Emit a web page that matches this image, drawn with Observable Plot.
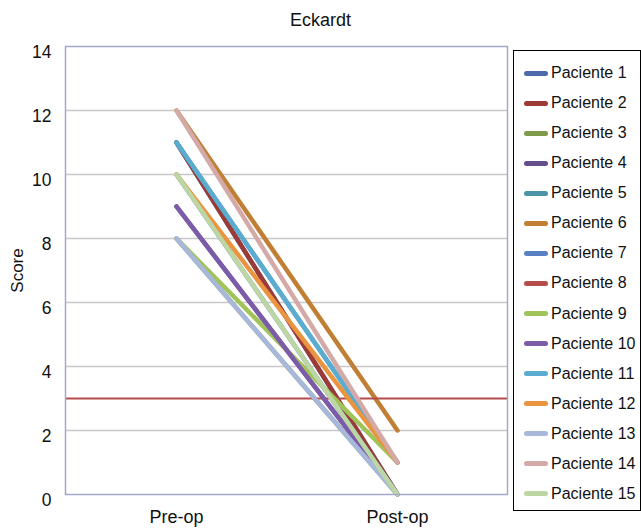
<!DOCTYPE html>
<html>
<head>
<meta charset="utf-8">
<script src="https://cdn.jsdelivr.net/npm/d3@7"></script>
<script src="https://cdn.jsdelivr.net/npm/@observablehq/plot@0.6"></script>
<style>
  body { margin: 0; background: #fff; font-family: "Liberation Sans", Arial, Helvetica, sans-serif; }
  #wrap { position: relative; width: 641px; height: 528px; overflow: hidden; }
  #title { position: absolute; left: 0; top: 10px; width: 641px; text-align: center; font-size: 18px; color: #111; }
  #legend { position: absolute; left: 513px; top: 50px; width: 126px; height: 459px; border: 1px solid #000; background: #fff; }
  .row { position: absolute; left: 0; height: 20px; display: flex; align-items: center; font-size: 16px; color: #111; white-space: nowrap; }
  .sw { width: 24px; height: 5px; border-radius: 3px; margin-left: 10px; margin-right: 3px; }
</style>
</head>
<body>
<div id="wrap">
  <div id="chart"></div>
  <div id="title">Eckardt</div>
  <div id="legend"></div>
</div>
<script>
const patients = ["Paciente 1","Paciente 2","Paciente 3","Paciente 4","Paciente 5","Paciente 6","Paciente 7","Paciente 8","Paciente 9","Paciente 10","Paciente 11","Paciente 12","Paciente 13","Paciente 14","Paciente 15"];
const phases = ["Pre-op", "Post-op"];
const preOp  = [11, 11, 8, 9, 11, 12, 10, 3, 8, 9, 11, 10, 8, 12, 10];
const postOp = [ 0,  0, 0, 0,  1,  2,  0, 3, 1, 0,  1,  1, 0,  1,  0];
const colors = ["#4a6aa8","#9b3a36","#7f9a48","#634d8a","#4b93a8","#c07f34","#5a80c4","#b44d4a","#a0c35a","#7c5ca8","#5aadd0","#ea9440","#a8b8dc","#d4aaa8","#bcd6a4"];
const yTicks = [0, 2, 4, 6, 8, 10, 12, 14];
const flatPatient = "Paciente 8";

const rows = [];
patients.forEach((p, i) => {
  rows.push({patient: p, phase: phases[0], score: preOp[i]});
  rows.push({patient: p, phase: phases[1], score: postOp[i]});
});

const marks = [
  Plot.ruleY(yTicks.filter(t => t > 0 && t < 14), {stroke: "#c8c8c8", strokeWidth: 1.5}),
  Plot.axisY({ticks: yTicks, tickSize: 0, tickPadding: 14, fontSize: 17.5, dy: 6, label: "Score", labelAnchor: "center", labelOffset: 55, labelArrow: "none"}),
  Plot.axisX({tickSize: 0, tickPadding: 16, fontSize: 18, label: null})
];
patients.forEach((p, i) => {
  if (p === flatPatient) {
    marks.push(Plot.ruleY([preOp[i]], {stroke: colors[i], strokeWidth: 2.2}));
  } else {
    marks.push(Plot.line(rows.filter(d => d.patient === p), {x: "phase", y: "score", stroke: colors[i], strokeWidth: 4.5, strokeLinecap: "round", strokeLinejoin: "round"}));
  }
});
marks.push(Plot.frame({stroke: "#a3a9c9", strokeWidth: 1.5}));

const chart = Plot.plot({
  width: 641,
  height: 528,
  marginLeft: 65,
  marginRight: 134,
  marginTop: 46,
  marginBottom: 34,
  style: {fontFamily: "'Liberation Sans', Arial, Helvetica, sans-serif", color: "#111", background: "#fff", overflow: "visible"},
  x: {type: "point", domain: phases, padding: 0.5},
  y: {domain: [0, 14]},
  marks
});
document.getElementById("chart").appendChild(chart);
chart.querySelectorAll("text").forEach(t => { if (t.textContent === "Score") t.setAttribute("font-size", "17"); });

const legend = document.getElementById("legend");
patients.forEach((p, i) => {
  const row = document.createElement("div");
  row.className = "row";
  row.style.top = (73 + i * 30.07 - 51 - 10) + "px";
  const sw = document.createElement("div");
  sw.className = "sw";
  sw.style.background = colors[i];
  const tx = document.createElement("span");
  tx.textContent = p;
  row.appendChild(sw);
  row.appendChild(tx);
  legend.appendChild(row);
});
</script>
</body>
</html>
